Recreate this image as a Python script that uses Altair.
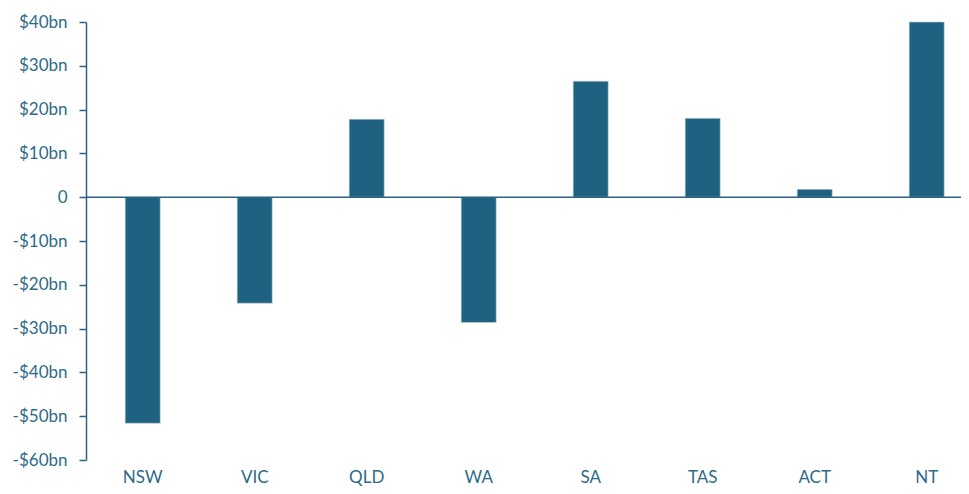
import altair as alt
import pandas as pd

states = ["NSW", "VIC", "QLD", "WA", "SA", "TAS", "ACT", "NT"]
values = [-51.6, -24.2, 17.8, -28.6, 26.5, 18.0, 1.8, 40.0]
y_ticks = [-60, -50, -40, -30, -20, -10, 0, 10, 20, 30, 40]

df = pd.DataFrame({"state": states, "value": values})
zero_df = pd.DataFrame({"z": [0]})

FONT = "Lato"
TEXT = "#2e6a88"
AXIS = "#2d6382"
BAR = "#1e6180"

base = alt.Chart(df)

bars = base.mark_bar(color=BAR, stroke="#c8d0d6", strokeWidth=0.6).encode(
    x=alt.X("state:N", sort=states,
            scale=alt.Scale(paddingInner=0.6875, paddingOuter=0.25, align=0.7),
            axis=alt.Axis(title=None, domain=False, ticks=False, labelAngle=0,
                          labelPadding=9, labelFontSize=17, labelColor=TEXT,
                          labelFont=FONT)),
    y=alt.Y("value:Q",
            scale=alt.Scale(domain=[-60, 40], nice=False, zero=False),
            axis=alt.Axis(title=None, values=y_ticks, grid=False,
                          domainColor=AXIS, domainWidth=1.5,
                          tickColor=AXIS, tickSize=7, tickWidth=1.5,
                          labelPadding=12, labelFontSize=17, labelColor=TEXT,
                          labelFont=FONT,
                          labelExpr="datum.value == 0 ? '0' : (datum.value < 0 ? '-$' + abs(datum.value) + 'bn' : '$' + datum.value + 'bn')")),
)

zero = alt.Chart(zero_df).mark_rule(color=AXIS, strokeWidth=1.5).encode(
    y=alt.Y("z:Q", scale=alt.Scale(domain=[-60, 40], nice=False, zero=False))
)

chart = alt.layer(bars, zero).properties(
    width=875, height=438,
    autosize=alt.AutoSizeParams(type="none"),
    padding={"left": 78, "top": 14, "right": 0, "bottom": 26},
).configure_view(stroke=None)

chart.save("out.html", embed_options={"renderer": "svg", "actions": False})
